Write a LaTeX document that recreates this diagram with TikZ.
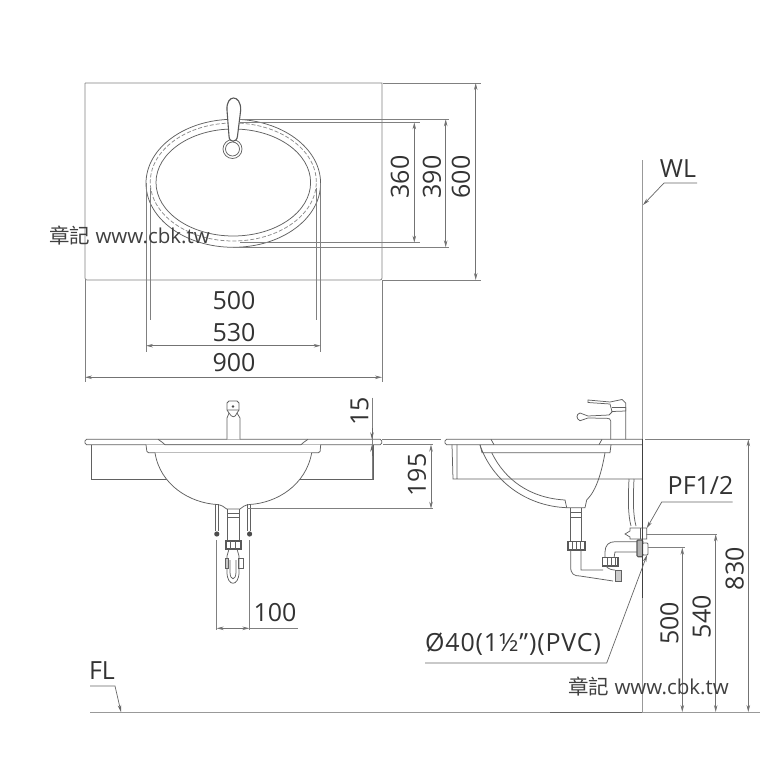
\documentclass[tikz,border=0pt]{standalone}
\usepackage{fontspec}
\setmainfont{Open Sans}
\newfontfamily\cjkfont{Noto Sans CJK TC}
\usetikzlibrary{arrows.meta}

\begin{document}
\begin{tikzpicture}[x=1pt, y=-1pt,
        part/.style={draw=black!62, line width=.75pt},
        thick part/.style={draw=black!65, line width=1.1pt},
        extline/.style={draw=black!50, line width=.7pt},
        dimline/.style={draw=black!55, line width=.7pt, {Stealth[length=7pt,width=3.5pt]}-{Stealth[length=7pt,width=3.5pt]}},
        leader/.style={draw=black!60, line width=.7pt, -{Stealth[length=7pt,width=3.5pt]}},
        dimtext/.style={inner sep=0pt, text=black!80, font=\fontsize{25pt}{25pt}\selectfont},
        marktext/.style={inner sep=0pt, text=black!75, font=\fontsize{20.5pt}{21pt}\selectfont}]
    \useasboundingbox (0,0) rectangle (768,768);
    \fill[white] (0,0) rectangle (768,768);

    % top view
    \draw[extline] (85,83) -- (382,83) -- (382,278) [rounded corners=2pt] -- (382,280) -- (85,280) -- (85,83);
    \draw[part] (233.3,183.3) ellipse [x radius=87.3pt, y radius=64pt];
    \draw[part] (233.3,182.5) ellipse [x radius=77.3pt, y radius=53.5pt];
    \draw[part, dashed, dash pattern=on 4pt off 2pt, draw=black!45] (233.3,182) ellipse [x radius=83pt, y radius=59pt];
    \draw[part, fill=white] (232.5,149) circle (9.5pt);
    \draw[part] (232.5,149) circle (7pt);
    \draw[thick part, fill=white] (227,110) .. controls (226,94) and (241,94) .. (240.7,110) -- (237.5,136) .. controls (237,143) and (229,143) .. (229,136) -- cycle;

    % front view
    \draw[part, rounded corners=1.5pt] (85,439.3) rectangle (381.7,444.7);
    \draw[part] (91.7,444.7) -- (91.7,479) -- (373,479) -- (373,444.7);
    \draw[part, fill=white, rounded corners=1.5pt] (146,444.7) -- (147,452.7) -- (320,452.7) -- (320.7,444.7);
    \draw[part] (158,439.3) .. controls (161,441) and (163,443) .. (165,444.7) -- (301,444.7) (308,439.3) .. controls (305,441) and (303,443) .. (301,444.7);
    \draw[part, fill=white] (155,452.7) .. controls (160,485) and (190,503) .. (217,504.5) .. controls (222,505) and (224,507) .. (226.7,509) -- (240,509) .. controls (242,507) and (245,505) .. (249.5,504.5) .. controls (277,503) and (306,485) .. (311.7,452.7);
    % faucet
    \draw[part, fill=white] (227,439.3) -- (227,418) -- (229,413) -- (227,410) -- (227,403) -- (229,401) -- (237,401) -- (239,403) -- (239,410) -- (237,413) -- (240,418) -- (240,439.3);
    \draw[part] (227,410) -- (239,410) (229,413) .. controls (232,418) and (235,418) .. (237,413);
    \fill[black!70] (233,406.5) circle (1.3pt);
    % drain and trap
    \draw[part] (227.3,509) -- (227.3,541) (239.3,509) -- (239.3,541) (227.3,513) -- (239.3,513) (227.3,517) -- (239.3,517);
    \draw[thick part] (226,541) rectangle (241,549);
    \foreach \xcut in {230,235} \draw[part] (\xcut,541) -- (\xcut,549);
    \draw[part] (227,556) -- (227,572) .. controls (227,587) and (239,587) .. (239,572) -- (239,556) (230,560) -- (230,572) .. controls (230,581) and (236,581) .. (236,572) -- (236,560);
    \draw[part] (229,549) -- (227,556) (237,549) -- (239,556);
    \draw[part] (225,558) rectangle (228,568) (238,558) rectangle (243,568);
    % supply hoses
    \draw[part] (215.7,504) -- (215.7,531) (218.3,504) -- (218.3,531) (247.3,504) -- (247.3,531) (250,504) -- (250,531);
    \fill[black!70] (216.8,534) circle (2.6pt) (249.6,534) circle (2.6pt);

    % side view
    \draw[part, rounded corners=1.5pt] (642,439.3) -- (445,439.3) -- (445,444.7) -- (642,444.7);
    \draw[part] (452,444.7) -- (453,479) -- (642,479) (457,444.7) -- (457,479);
    \draw[part] (480,444.7) -- (482,452.7) -- (610,452.7) -- (611,444.7);
    \draw[part] (480,445) .. controls (492,480) and (525,506) .. (566.7,507.7) -- (585,507.7) -- (586.7,500) .. controls (597,490) and (602,470) .. (605,452.7);
    \draw[part] (491.7,452.7) .. controls (505,480) and (530,498) .. (565,500) -- (566.7,507.7);
    \draw[part] (491,439.3) .. controls (492,441) and (493,443) .. (494,444.7) (602,439.3) .. controls (601,441) and (600,443) .. (599,444.7);
    % faucet
    \draw[part] (610.7,439.3) -- (610.7,421) .. controls (610.7,419) and (609,418.3) .. (607,418.3) -- (588,418) -- (580,420.7) .. controls (576,419) and (576,414) .. (580,413) -- (588,416) -- (609,415) -- (612,412) -- (612,402) (625.7,439.3) -- (625.7,407);
    \draw[part, fill=white] (588,400) -- (610,402) -- (622,399.5) -- (625.7,403) -- (625.7,411) -- (612,411.5) -- (610,404) -- (588,402.5) -- cycle;
    \draw[part] (612,407) -- (625.7,407);
    % drain and trap
    \draw[part] (570.7,508) -- (570.7,541.7) (581,508) -- (581,541.7) (570.7,512) -- (581,512) (570.7,517) -- (581,517);
    \draw[thick part] (568,541.7) rectangle (585,550);
    \foreach \xcut in {572,576,580} \draw[part] (\xcut,541.7) -- (\xcut,550);
    \draw[part] (570.7,550) -- (570.7,567) .. controls (570.7,574) and (574,576) .. (580,576) -- (613,581) (581,550) -- (581,570) -- (603,570);
    \draw[thick part] (602.7,557.7) rectangle (618,566);
    \foreach \xcut in {607,611,615} \draw[part] (\xcut,557.7) -- (\xcut,566);
    \draw[part] (605,557.7) -- (605,552) .. controls (605,545) and (609,541.7) .. (615,541.7) -- (637,541.7) (614,557.7) -- (615,552) -- (637,552);
    \draw[part] (606,566) .. controls (608,569) and (612,570) .. (615,570);
    \draw[part, fill=black!20] (615,570) rectangle (621,581.7);
    % supply and wall connection
    \draw[part] (629,479) .. controls (628,500) and (628,515) .. (631,526) (634,479) .. controls (633,500) and (633,515) .. (636,526);
    \draw[part, fill=white] (625,534) -- (630,531) -- (630,528) -- (646.7,528) -- (646.7,539) -- (630,539) -- (630,537) -- cycle;
    \draw[part] (640,528) -- (640,539);
    \draw[thick part, fill=black!30, rounded corners=1pt] (637,540) rectangle (642.7,556.7);
    \draw[part, fill=white, rounded corners=1pt] (642.7,543) rectangle (648,555);

    % wall and floor
    \draw[extline, line width=1.2pt, draw=black!40] (642.3,160) -- (642.3,712);
    \draw[thick part, line width=1.6pt, draw=black!75] (642.3,439) -- (642.3,598);
    \draw[extline, line width=1.3pt, draw=black!40] (90,712.3) -- (760,712.3);
    \draw[extline, line width=1.3pt, draw=black!60] (550,712.3) -- (642,712.3);

    % extension lines
    \foreach \xa/\ya/\xb/\yb in {240/119.3/449/119.3, 233/247.3/449/247.3, 240/122.3/420/122.3, 240/242.7/420/242.7,
            383/83/481/83, 383/280/481/280, 150/188/150/320, 316.7/188/316.7/320, 146/183/146/351.7, 320.7/183/320.7/351.7,
            85/280/85/381.7, 382/280/382/381.7, 382/439.3/441/439.3, 383/444.7/433/444.7, 247/508.7/433/508.7,
            372/397.7/372/479, 216.7/540/216.7/630, 249.3/540/249.3/630, 249.3/628.3/298/628.3,
            645/439.3/750/439.3, 646/534.3/717/534.3, 648/547.7/685/547.7}
        \draw[extline] (\xa,\ya) -- (\xb,\yb);

    % dimension arrows
    \foreach \xa/\ya/\xb/\yb in {414.3/122.3/414.3/242.7, 445.7/119.3/445.7/247.3, 475.7/83/475.7/280,
            146/345.7/320.7/345.7, 85/377.3/382/377.3, 431/444.7/431/508.7, 216.7/628.3/249.3/628.3,
            748.3/439.3/748.3/712, 715.7/534.3/715.7/712, 682.3/547.7/682.3/712}
        \draw[dimline] (\xa,\ya) -- (\xb,\yb);
    \draw[leader] (372,428) -- (372,439.3);
    \draw[leader] (372,456) -- (372,444.7);

    % labels
    \node[dimtext, rotate=90] (d360) at (400,177) {360};
    \node[dimtext, rotate=90] (d390) at (432,177) {390};
    \node[dimtext, rotate=90] (d600) at (461,177) {600};
    \node[dimtext] (d500) at (234,300.8) {500};
    \node[dimtext] (d530) at (234,332.5) {530};
    \node[dimtext] (d900) at (234,363) {900};
    \node[dimtext, rotate=90] (d15) at (359.5,411.5) {15};
    \node[dimtext, rotate=90] (d195) at (417,475) {195};
    \node[dimtext] (d100) at (275,613) {100};
    \node[dimtext, rotate=90] (d830) at (734.7,568.7) {830};
    \node[dimtext, rotate=90] (d540) at (701.7,616.7) {540};
    \node[dimtext, rotate=90] (d500b) at (669.3,623.3) {500};
    \node[dimtext] (wl) at (678,169) {WL};
    \node[dimtext] (fl) at (102,671) {FL};
    \node[dimtext] (pf) at (700.6,485) {PF1/2};
    \node[dimtext] (pvc) at (513,644) {\addfontfeature{LetterSpace=3.4}Ø40(1½")(PVC)};

    % leaders
    \coordinate (wlend) at (697,183);
    \coordinate (wlbend) at (664,183);
    \coordinate (wltip) at (643,205);
    \coordinate (flstart) at (90,686);
    \coordinate (flbend) at (115,686);
    \coordinate (fltip) at (121,712);
    \coordinate (pfend) at (732.7,502);
    \coordinate (pfbend) at (661.7,502);
    \coordinate (pftip) at (646.7,528.3);
    \coordinate (pvcstart) at (425,663);
    \coordinate (pvcbend) at (606.7,663);
    \coordinate (pvctip) at (647,555);
    \draw[leader] (wlend) -- (wlbend) -- (wltip);
    \draw[leader] (flstart) -- (flbend) -- (fltip);
    \draw[leader] (pfend) -- (pfbend) -- (pftip);
    \draw[leader] (pvcstart) -- (pvcbend) -- (pvctip);

    % web marks
    \node[marktext, anchor=west] (markone) at (49,236) {{\cjkfont 章記} www.cbk.tw};
    \node[marktext, anchor=west] (marktwo) at (568,687) {{\cjkfont 章記} www.cbk.tw};
\end{tikzpicture}
\end{document}
